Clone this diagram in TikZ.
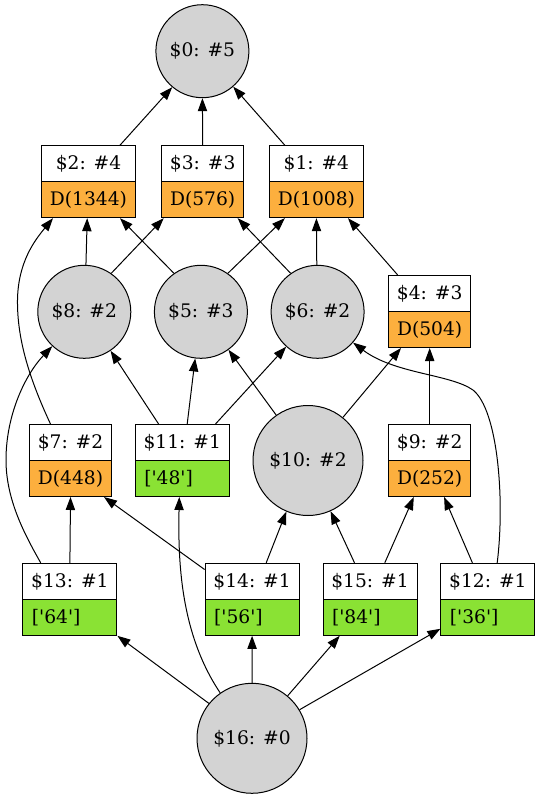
\documentclass[tikz,border=0pt]{standalone}
\usepackage{fontspec}
\setmainfont{DejaVu Serif}[Ligatures=TeXOff]
\usetikzlibrary{arrows.meta,calc}
\definecolor{gvgray}{HTML}{D3D3D3}
\definecolor{gvorange}{HTML}{FCAF3E}
\definecolor{gvgreen}{HTML}{8AE234}
\newcommand{\sq}{'}
\begin{document}
\begin{tikzpicture}[x=1pt,y=-1pt,
  font=\fontsize{18.67}{22}\selectfont,
  circ/.style={circle,draw,fill=gvgray,inner sep=0pt,minimum size=93pt,line width=1pt},
  bigcirc/.style={circ,minimum size=110pt},
  cellw/.style={rectangle,draw,fill=white,inner sep=0pt,minimum height=36pt,line width=1pt},
  wide/.style={minimum width=94pt},
  narrow/.style={minimum width=82pt},
  cello/.style={cellw,fill=gvorange},
  cellg/.style={rectangle,draw,fill=gvgreen,inner ysep=0pt,inner xsep=9pt,text width=76pt,align=left,minimum height=36pt,line width=1pt},
  edge/.style={line width=1pt,-{Triangle[length=13pt,width=9.3pt]}}]
\useasboundingbox (0,0) rectangle (538,798);
% circles
\node[circ] (n0) at (202.4,51.2) {\$0: \#5};
\node[circ] (n8) at (84.3,311.8) {\$8: \#2};
\node[circ] (n5) at (200.9,311.8) {\$5: \#3};
\node[circ] (n6) at (317.6,311.8) {\$6: \#2};
\node[bigcirc] (n10) at (308,460.5) {\$10: \#2};
\node[bigcirc] (n16) at (252,738.3) {\$16: \#0};
% records
\node[cellw,wide] (r2t) at (88.5,163.7) {\$2: \#4};
\node[cello,wide] (r2b) at (88.5,199.7) {D(1344)};
\node[cellw,narrow] (r3t) at (202.7,163.7) {\$3: \#3};
\node[cello,narrow] (r3b) at (202.7,199.7) {D(576)};
\node[cellw,wide] (r1t) at (316.4,163.7) {\$1: \#4};
\node[cello,wide] (r1b) at (316.4,199.7) {D(1008)};
\node[cellw,narrow] (r4t) at (429.7,293.5) {\$4: \#3};
\node[cello,narrow] (r4b) at (429.7,329.5) {D(504)};
\node[cellw,narrow] (r7t) at (70.5,442.5) {\$7: \#2};
\node[cello,narrow] (r7b) at (70.5,478.5) {D(448)};
\node[cellw,wide] (r11t) at (182.3,442.5) {\$11: \#1};
\node[cellg] (r11b) at (182.3,478.5) {[\sq48\sq]};
\node[cellw,narrow] (r9t) at (429.7,442.5) {\$9: \#2};
\node[cello,narrow] (r9b) at (429.7,478.5) {D(252)};
\node[cellw,wide] (r13t) at (69.9,581.3) {\$13: \#1};
\node[cellg] (r13b) at (69.9,617.3) {[\sq64\sq]};
\node[cellw,wide] (r14t) at (252.1,581.3) {\$14: \#1};
\node[cellg] (r14b) at (252.1,617.3) {[\sq56\sq]};
\node[cellw,wide] (r15t) at (370,581.3) {\$15: \#1};
\node[cellg] (r15b) at (370,617.3) {[\sq84\sq]};
\node[cellw,wide] (r12t) at (487.9,581.3) {\$12: \#1};
\node[cellg] (r12b) at (487.9,617.3) {[\sq36\sq]};
% edges into $0
\draw[edge] ([xshift=31.5pt]r2t.north) -- (n0.230);
\draw[edge] (r3t.north) -- (n0.south);
\draw[edge] ([xshift=-31.6pt]r1t.north) -- (n0.311);
% edges into row 2 records
\draw[edge] ([xshift=-20pt]r7t.north) .. controls (30,380) and (17,340) .. (17.5,300)
  .. controls (18,262) and (35,240) .. ([xshift=-35.5pt]r2b.south);
\draw[edge] (n8.88) -- ([xshift=-1.3pt]r2b.south);
\draw[edge] (n5.125) -- ([xshift=31.5pt]r2b.south);
\draw[edge] (n8.55) -- ([xshift=-39pt]r3b.south);
\draw[edge] (n6.125) -- ([xshift=35pt]r3b.south);
\draw[edge] (n5.55) -- ([xshift=-31.6pt]r1b.south);
\draw[edge] (n6.91) -- (r1b.south);
\draw[edge] ([xshift=-32pt]r4t.north) -- ([xshift=31.6pt]r1b.south);
% edges into middle row
\draw[edge] ([xshift=-29.2pt]r13t.north) .. controls (25,535) and (6,500) .. (6,460)
  .. controls (6,415) and (25,375) .. (n8.227);
\draw[edge] ([xshift=-23.7pt]r11t.north) -- (n8.304);
\draw[edge] ([xshift=4.9pt]r11t.north) -- (n5.263);
\draw[edge] ([xshift=33.2pt]r11t.north) -- (n6.228);
\draw[edge] (n10.125) -- (n5.306);
\draw[edge] (n10.51) -- ([xshift=-28.7pt]r4b.south);
\draw[edge] (r9t.north) -- (r4b.south);
\draw[edge] ([xshift=9.3pt]r12t.north) .. controls (505,500) and (498,410) .. (473,390)
  .. controls (450,374) and (395,374) .. (n6.319);
% edges into lower row
\draw[edge] (r13t.north) -- (r7b.south);
\draw[edge] ([yshift=-6.7pt]r14t.north west) -- ([xshift=33.5pt]r7b.south);
\draw[edge] (n16.125) .. controls (180,633) and (178,560) .. ([xshift=-3pt]r11b.south);
\draw[edge] ([xshift=14.1pt]r14t.north) -- (n10.247);
\draw[edge] ([xshift=-15.5pt]r15t.north) -- (n10.294);
\draw[edge] ([xshift=14.8pt]r15t.north) -- ([xshift=-15.9pt]r9b.south);
\draw[edge] ([xshift=-15.5pt]r12t.north) -- ([xshift=14.4pt]r9b.south);
% edges from $16
\draw[edge] (n16.141.6) -- (r13b.south east);
\draw[edge] (n16.north) -- (r14b.south);
\draw[edge] (n16.50.3) -- ([xshift=-30.3pt]r15b.south);
\draw[edge] (n16.31.1) -- ([yshift=7pt]r12b.south west);
\end{tikzpicture}
\end{document}
